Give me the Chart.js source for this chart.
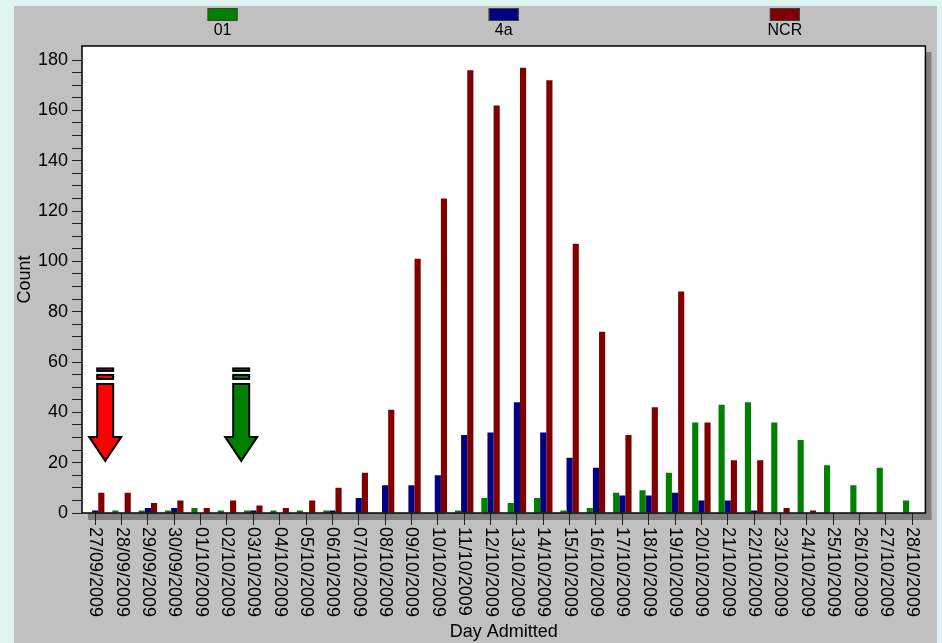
<!DOCTYPE html>
<html>
<head>
<meta charset="utf-8">
<script src="https://cdn.jsdelivr.net/npm/chart.js@4.4.0/dist/chart.umd.min.js"></script>
<style>
  html, body { margin: 0; padding: 0; background: #ddf4f1; }
  #panel { position: absolute; left: 14px; top: 6px; width: 923px; height: 637px; background: #c0c0c0; }
  canvas { display: block; }
</style>
</head>
<body>
<div id="panel"><canvas id="chart" width="923" height="637"></canvas></div>
<script>
// Day admitted categories
const days = [
  '27/09/2009', '28/09/2009', '29/09/2009', '30/09/2009', '01/10/2009', '02/10/2009',
  '03/10/2009', '04/10/2009', '05/10/2009', '06/10/2009', '07/10/2009', '08/10/2009',
  '09/10/2009', '10/10/2009', '11/10/2009', '12/10/2009', '13/10/2009', '14/10/2009',
  '15/10/2009', '16/10/2009', '17/10/2009', '18/10/2009', '19/10/2009', '20/10/2009',
  '21/10/2009', '22/10/2009', '23/10/2009', '24/10/2009', '25/10/2009', '26/10/2009',
  '27/10/2009', '28/10/2009'
];

// Counts per series
const series01  = [0, 1, 1, 1, 2, 1, 1, 1, 1, 1, 0, 0, 0, 0, 1, 6, 4, 6, 1, 2, 8, 9, 16, 36, 43, 44, 36, 29, 19, 11, 18, 5];
const series4a  = [1, 0, 2, 2, 0, 0, 1, 0, 0, 1, 6, 11, 11, 15, 31, 32, 44, 32, 22, 18, 7, 7, 8, 5, 5, 1, 0, 0, 0, 0, 0, 0];
const seriesNCR = [8, 8, 4, 5, 2, 5, 3, 2, 5, 10, 16, 41, 101, 125, 176, 162, 177, 172, 107, 72, 31, 42, 88, 36, 21, 21, 2, 1, 0, 0, 0, 0];

const seriesNames = ['01', '4a', 'NCR'];
const yMax = 185.6;

const FONT = "'Liberation Sans', Arial, sans-serif";

// Arrow annotations (category index, value at the tip)
const arrows = [
  { at: 0.38, tip: 20.7, color: '#ff0000' },
  { at: 5.54, tip: 20.7, color: '#008000' }
];

// White plot box and the grey drop shadow
const frame = {
  id: 'frame',
  beforeDraw(chart) {
    const { ctx, chartArea: a } = chart;
    ctx.save();
    ctx.fillStyle = '#808080';
    ctx.fillRect(a.right, a.top + 6, 6, a.bottom - a.top + 1);
    ctx.fillRect(a.left + 6, a.bottom, a.right - a.left, 7);
    ctx.fillStyle = '#ffffff';
    ctx.fillRect(a.left, a.top, a.right - a.left, a.bottom - a.top);
    ctx.restore();
  },
  afterDatasetsDraw(chart) {
    const { ctx, chartArea: a } = chart;
    ctx.save();
    ctx.strokeStyle = '#000';
    ctx.lineWidth = 1.5;
    ctx.strokeRect(a.left, a.top, a.right - a.left, a.bottom - a.top);
    ctx.restore();
  }
};

// Box-over-text legend, one item per third of the plot width
const topLegend = {
  id: 'topLegend',
  afterDraw(chart) {
    const { ctx, chartArea: a } = chart;
    const n = chart.data.datasets.length;
    const w = (a.right - a.left) / n;
    ctx.save();
    chart.data.datasets.forEach((ds, i) => {
      const cx = a.left + w * (i + 0.5);
      ctx.fillStyle = ds.backgroundColor;
      ctx.fillRect(cx - 15, 2, 30, 13);
      ctx.strokeStyle = '#404040';
      ctx.lineWidth = 1;
      ctx.strokeRect(cx - 14.5, 2.5, 29, 12);
      ctx.fillStyle = '#000';
      ctx.font = '16px ' + FONT;
      ctx.textAlign = 'center';
      ctx.textBaseline = 'middle';
      ctx.fillText(ds.label, cx, 25);
    });
    ctx.restore();
  }
};

// Date labels turned clockwise, read top to bottom
const dateLabels = {
  id: 'dateLabels',
  afterDraw(chart) {
    const { ctx, chartArea: a } = chart;
    const x = chart.scales.x;
    ctx.save();
    ctx.fillStyle = '#000';
    ctx.font = '18px ' + FONT;
    ctx.textAlign = 'left';
    ctx.textBaseline = 'middle';
    chart.data.labels.forEach((lab, i) => {
      ctx.save();
      ctx.translate(x.getPixelForTick(i), a.bottom + 14);
      ctx.rotate(Math.PI / 2);
      ctx.fillText(lab, 0, 0);
      ctx.restore();
    });
    ctx.restore();
  }
};

const arrowMarks = {
  id: 'arrowMarks',
  afterDatasetsDraw(chart) {
    const { ctx } = chart;
    const x = chart.scales.x, y = chart.scales.y;
    ctx.save();
    ctx.lineWidth = 2;
    ctx.strokeStyle = '#000';
    arrows.forEach(ar => {
      const cx = x.getPixelForValue(ar.at);
      const ty = y.getPixelForValue(ar.tip);
      ctx.fillStyle = ar.color;
      ctx.beginPath();
      ctx.moveTo(cx, ty);
      ctx.lineTo(cx - 16, ty - 24);
      ctx.lineTo(cx - 8, ty - 24);
      ctx.lineTo(cx - 8, ty - 77);
      ctx.lineTo(cx + 8, ty - 77);
      ctx.lineTo(cx + 8, ty - 24);
      ctx.lineTo(cx + 16, ty - 24);
      ctx.closePath();
      ctx.fill();
      ctx.stroke();
      ctx.fillRect(cx - 8, ty - 86, 16, 4);
      ctx.strokeRect(cx - 8, ty - 86, 16, 4);
      ctx.fillRect(cx - 8, ty - 92.5, 16, 2.5);
      ctx.strokeRect(cx - 8, ty - 92.5, 16, 2.5);
    });
    ctx.restore();
  }
};

new Chart(document.getElementById('chart'), {
  type: 'bar',
  data: {
    labels: days,
    datasets: [
      { label: seriesNames[0], data: series01, backgroundColor: '#008000' },
      { label: seriesNames[1], data: series4a, backgroundColor: '#000080' },
      { label: seriesNames[2], data: seriesNCR, backgroundColor: '#800000' }
    ]
  },
  options: {
    responsive: false,
    animation: false,
    layout: { padding: { top: 40, right: 10, left: 0, bottom: 0 } },
    datasets: {
      bar: { barPercentage: 1, categoryPercentage: 0.7 }
    },
    plugins: {
      legend: { display: false },
      tooltip: { enabled: false }
    },
    scales: {
      x: {
        offset: true,
        grid: { display: true, drawOnChartArea: false, drawTicks: true, tickLength: 12, offset: false, color: '#222' },
        border: { display: false },
        ticks: { autoSkip: false, maxRotation: 90, minRotation: 90, color: 'rgba(0,0,0,0)', font: { family: FONT, size: 18 } },
        title: { display: true, text: 'Day Admitted', color: '#000', padding: 0, font: { family: FONT, size: 18 } },
        afterFit(scale) { scale.height = 130; }
      },
      y: {
        min: 0,
        max: yMax,
        afterBuildTicks(scale) {
          scale.ticks = scale.ticks.filter(t => t.value % 5 === 0);
        },
        grid: { drawOnChartArea: false, drawTicks: true, tickLength: 10, color: '#222' },
        border: { display: false },
        ticks: {
          stepSize: 5,
          autoSkip: false,
          padding: 4,
          color: '#000',
          font: { family: FONT, size: 18 },
          callback: v => (v % 20 === 0 ? v : '')
        },
        title: { display: true, text: 'Count', color: '#000', padding: 0, font: { family: FONT, size: 18 } },
        afterFit(scale) { scale.width = 68; }
      }
    }
  },
  plugins: [frame, topLegend, dateLabels, arrowMarks]
});
</script>
</body>
</html>
